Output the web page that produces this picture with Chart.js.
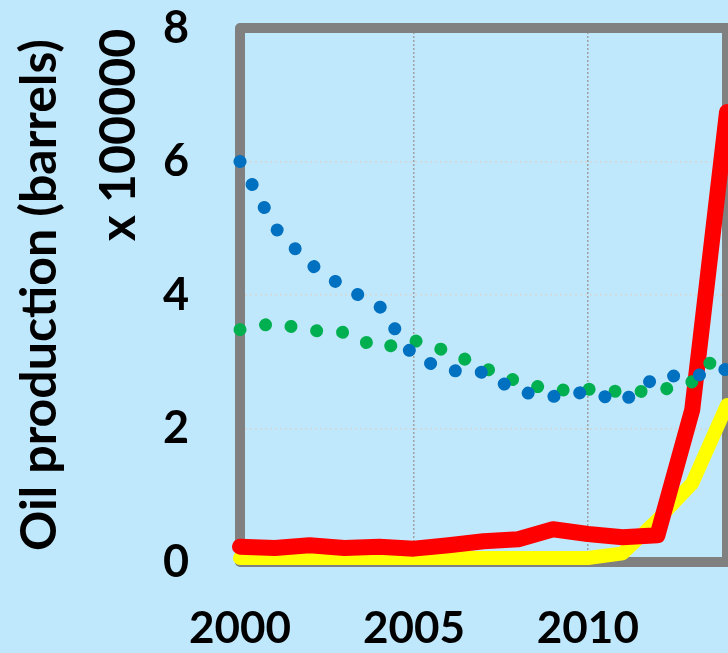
<!DOCTYPE html>
<html>
<head>
<meta charset="utf-8">
<script src="https://cdn.jsdelivr.net/npm/chart.js@4"></script>
<style>
  html, body { margin: 0; padding: 0; background: #c0e8fc; }
  #wrap { width: 728px; height: 653px; }
</style>
</head>
<body>
<div id="wrap"><canvas id="chart"></canvas></div>
<script>
const years = [2000, 2001, 2002, 2003, 2004, 2005, 2006, 2007, 2008, 2009, 2010, 2011, 2012, 2013, 2014];
const xTicks = [2000, 2005, 2010];

// production, units of 100000 barrels
const blueSeries = [6.0, 5.01, 4.47, 4.11, 3.84, 3.07, 2.87, 2.84, 2.55, 2.48, 2.55, 2.4, 2.79, 2.78, 2.89];
const greenSeries = [3.48, 3.58, 3.47, 3.44, 3.2, 3.32, 3.15, 2.91, 2.7, 2.57, 2.59, 2.55, 2.56, 2.7, 3.25];
const redSeries = [0.23, 0.21, 0.25, 0.21, 0.23, 0.2, 0.25, 0.31, 0.34, 0.49, 0.42, 0.37, 0.4, 2.28, 6.74];
const yellowSeries = [0.06, 0.06, 0.06, 0.06, 0.06, 0.06, 0.06, 0.06, 0.06, 0.06, 0.06, 0.13, 0.63, 1.18, 2.35];

const FONT = 'Lato, "Open Sans", sans-serif';
const BG = '#c0e8fc';

const toPoints = (arr) => arr.map((v, i) => ({ x: years[i], y: v }));

const dotted = (data, color) => ({
    data: toPoints(data),
    borderColor: color,
    borderWidth: 13,
    borderDash: [0.01, 26],
    borderCapStyle: 'round',
    pointRadius: 0,
    tension: 0,
    clip: false,
});

const solid = (data, color, width) => ({
    data: toPoints(data),
    borderColor: color,
    borderWidth: width,
    borderCapStyle: 'round',
    borderJoinStyle: 'round',
    pointRadius: 0,
    tension: 0,
    clip: false,
});

const backdrop = {
    id: 'backdrop',
    beforeDraw(chart) {
        const { ctx, width, height } = chart;
        ctx.save();
        ctx.fillStyle = BG;
        ctx.fillRect(0, 0, width, height);
        ctx.restore();
    },
    beforeDatasetsDraw(chart) {
        const { ctx, chartArea: a } = chart;
        ctx.save();
        ctx.strokeStyle = '#808080';
        ctx.lineWidth = 10;
        ctx.lineJoin = 'round';
        ctx.strokeRect(a.left, a.top, a.right - a.left, a.bottom - a.top);
        ctx.restore();
    },
    afterDraw(chart) {
        const { ctx } = chart;
        ctx.save();
        ctx.translate(119, 135);
        ctx.rotate(-Math.PI / 2);
        ctx.font = `bold 50px ${FONT}`;
        ctx.fillStyle = '#000';
        ctx.textAlign = 'center';
        ctx.textBaseline = 'middle';
        ctx.fillText('x 100000', 0, 0);
        ctx.restore();
    },
};

new Chart(document.getElementById('chart'), {
    type: 'line',
    data: {
        datasets: [
            dotted(blueSeries, '#0070c0'),
            dotted(greenSeries, '#00b050'),
            solid(redSeries, '#ff0000', 16),
            solid(yellowSeries, '#ffff00', 14),
        ],
    },
    options: {
        responsive: true,
        maintainAspectRatio: false,
        animation: false,
        layout: { padding: { top: 28, right: 1, left: 0, bottom: 0 } },
        plugins: {
            legend: { display: false },
            tooltip: { enabled: false },
        },
        scales: {
            x: {
                type: 'linear',
                min: 2000,
                max: 2014,
                afterBuildTicks: (axis) => {
                    axis.ticks = xTicks.map((v) => ({ value: v }));
                },
                afterFit: (axis) => {
                    axis.height = 91;
                    axis.paddingLeft = 0;
                    axis.paddingRight = 0;
                },
                grid: {
                    color: '#a0a0a0',
                    lineWidth: 1.5,
                    drawTicks: false,
                },
                border: { display: false, dash: [2, 2] },
                ticks: {
                    padding: 40,
                    color: '#000',
                    font: { family: FONT, size: 44, weight: 'bold' },
                    callback: (v) => String(v),
                },
            },
            y: {
                min: 0,
                max: 8,
                afterFit: (axis) => {
                    axis.width = 240;
                    axis.paddingTop = 0;
                    axis.paddingBottom = 0;
                },
                grid: {
                    color: '#d6d6d6',
                    lineWidth: 1.5,
                    drawTicks: false,
                },
                border: { display: false, dash: [2, 3] },
                ticks: {
                    stepSize: 2,
                    padding: 51,
                    color: '#000',
                    font: { family: FONT, size: 45, weight: 'bold' },
                },
                title: {
                    display: true,
                    text: 'Oil production (barrels)',
                    color: '#000',
                    padding: { top: 10, bottom: 0 },
                    font: { family: FONT, size: 50, weight: 'bold' },
                },
            },
        },
    },
    plugins: [backdrop],
});
</script>
</body>
</html>
